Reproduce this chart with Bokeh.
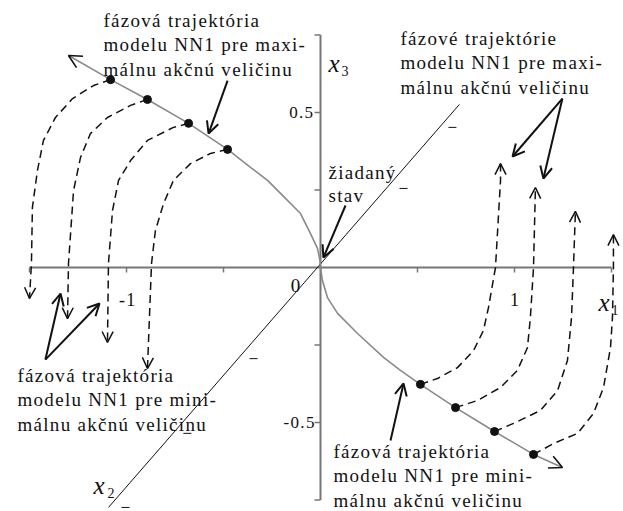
from bokeh.plotting import figure
from bokeh.models import Range1d, Arrow, OpenHead, InlineStyleSheet
from bokeh.core.properties import value
from bokeh.embed import file_html
from bokeh.resources import INLINE

W, H = 623, 511
X_LO, X_HI = -1.6495, 1.5619
Y_LO, Y_HI = -0.7871, 0.8613
PX = (X_HI - X_LO) / W   # data units of x1 per screen pixel
PY = (Y_HI - Y_LO) / H   # data units of x3 per screen pixel

# ---- switching curve: NN1 phase trajectory, maximal control (x1 < 0 branch)
curve_max_x1 = [-1.299, -1.082, -0.892, -0.680, -0.479, -0.361, -0.273, -0.206,
                -0.103, -0.052, -0.015, -0.002, 0.0]
curve_max_x3 = [0.684, 0.606, 0.542, 0.465, 0.381, 0.323, 0.281, 0.239,
                0.174, 0.110, 0.061, 0.020, 0.0]
# ---- switching curve: NN1 phase trajectory, minimal control (x1 > 0 branch)
curve_min_x1 = [0.0, 0.010, 0.036, 0.088, 0.191, 0.325, 0.412, 0.515, 0.696,
                0.897, 1.098, 1.247]
curve_min_x3 = [0.0, -0.042, -0.097, -0.148, -0.213, -0.290, -0.332, -0.377,
                -0.452, -0.529, -0.603, -0.645]

# ---- trajectories under minimal control, starting on the upper branch
traj_min = [
    ([-1.082, -1.170, -1.278, -1.366, -1.428, -1.459, -1.485, -1.490, -1.500],
     [0.606, 0.587, 0.545, 0.484, 0.410, 0.313, 0.194, 0.013, -0.100]),
    ([-0.892, -0.979, -1.098, -1.186, -1.237, -1.273, -1.299, -1.304],
     [0.542, 0.523, 0.484, 0.432, 0.355, 0.248, 0.013, -0.165]),
    ([-0.680, -0.758, -0.892, -0.979, -1.041, -1.072, -1.093, -1.098],
     [0.465, 0.452, 0.410, 0.345, 0.281, 0.184, 0.013, -0.242]),
    ([-0.479, -0.567, -0.670, -0.758, -0.809, -0.851, -0.871, -0.892],
     [0.381, 0.368, 0.335, 0.281, 0.206, 0.119, 0.013, -0.326]),
]
# ---- trajectories under maximal control, starting on the lower branch
traj_max = [
    ([0.515, 0.603, 0.706, 0.789, 0.840, 0.866, 0.902, 0.928, 0.928],
     [-0.377, -0.358, -0.323, -0.268, -0.203, -0.129, 0.0, 0.281, 0.335]),
    ([0.696, 0.809, 0.928, 1.015, 1.067, 1.082, 1.098, 1.108],
     [-0.452, -0.429, -0.387, -0.332, -0.258, -0.161, 0.0, 0.258]),
    ([0.897, 0.995, 1.134, 1.222, 1.273, 1.294, 1.304, 1.314],
     [-0.529, -0.503, -0.461, -0.397, -0.300, -0.161, 0.0, 0.181]),
    ([1.098, 1.201, 1.325, 1.407, 1.459, 1.495, 1.505, 1.510, 1.510],
     [-0.603, -0.568, -0.535, -0.471, -0.387, -0.258, -0.161, 0.0, 0.106]),
]

# ---- axes and tick values
x1_ticks = [-1.5, -1.0, -0.5, 0.5, 1.0, 1.5]
x3_ticks = [-0.75, -0.5, -0.25, 0.25, 0.5, 0.75]
x1_labels = {-1.0: "-1", 1.0: "1"}
x3_labels = {0.5: "0.5", -0.5: "-0.5"}
# x2 axis (drawn in oblique projection) and its tick marks
x2_axis_x1 = [-1.093, 0.716]
x2_axis_x3 = [-0.774, 0.526]
x2_ticks_x1 = [0.680, 0.428, -0.345, -0.686, -1.005]
x2_ticks_x3 = [0.452, 0.255, -0.294, -0.535, -0.774]

SERIF = value("Liberation Serif")
INK = "#111111"
AXIS = "#777777"

p = figure(width=W, height=H, x_range=Range1d(X_LO, X_HI), y_range=Range1d(Y_LO, Y_HI),
           output_backend="svg", toolbar_location=None, min_border=0)
p.axis.visible = False
p.grid.visible = False
p.outline_line_color = None
p.background_fill_color = "white"
p.border_fill_color = "white"
# the annotation texts are set with a little extra tracking
p.stylesheets = [InlineStyleSheet(css=":host, :host *, text { letter-spacing: 1.3px; }")]

# x1 and x3 axes crossing at the origin
p.segment(x0=[-1.5, 0.0], y0=[0.0, -0.75], x1=[1.5, 0.0], y1=[0.0, 0.75],
          line_color=AXIS, line_width=2)
p.segment(x0=x1_ticks, y0=[0.0] * len(x1_ticks), x1=x1_ticks,
          y1=[-5 * PY] * len(x1_ticks), line_color=AXIS, line_width=1.5)
p.segment(x0=[0.0] * len(x3_ticks), y0=x3_ticks, x1=[-6 * PX] * len(x3_ticks),
          y1=x3_ticks, line_color=AXIS, line_width=1.5)

# x2 axis
p.line(x2_axis_x1, x2_axis_x3, line_color=INK, line_width=1)
p.segment(x0=[v - 4 * PX for v in x2_ticks_x1], y0=x2_ticks_x3,
          x1=[v + 4 * PX for v in x2_ticks_x1], y1=x2_ticks_x3,
          line_color=INK, line_width=1)

# switching curve
p.line(curve_max_x1, curve_max_x3, line_color="#8a8a8a", line_width=1.6)
p.line(curve_min_x1, curve_min_x3, line_color="#8a8a8a", line_width=1.6)
for xs, ys in ((curve_max_x1[::-1], curve_max_x3[::-1]), (curve_min_x1, curve_min_x3)):
    p.add_layout(Arrow(end=OpenHead(size=13, line_width=1.6, line_color=INK),
                       x_start=xs[-2], y_start=ys[-2], x_end=xs[-1], y_end=ys[-1],
                       line_alpha=0))

# dashed trajectories with open arrow heads
for xs, ys in traj_min + traj_max:
    p.line(xs, ys, line_color=INK, line_width=1.5, line_dash="8 5")
    p.add_layout(Arrow(end=OpenHead(size=11, line_width=1.5, line_color=INK),
                       x_start=xs[-2], y_start=ys[-2], x_end=xs[-1], y_end=ys[-1],
                       line_alpha=0))
# initial states
p.scatter([t[0][0] for t in traj_min + traj_max], [t[1][0] for t in traj_min + traj_max],
          size=8, color=INK)

# tick labels
p.text(x=[k for k in x1_labels], y=[-32 * PY] * len(x1_labels),
       text=[x1_labels[k] for k in x1_labels], text_font=SERIF, text_font_size="18px",
       text_align="center", text_baseline="middle", text_color=INK)
p.text(x=[-10 * PX] * len(x3_labels), y=[k for k in x3_labels],
       text=[x3_labels[k] for k in x3_labels], text_font=SERIF, text_font_size="17px",
       text_align="right", text_baseline="middle", text_color=INK)
p.text(x=[-25 * PX], y=[-18 * PY], text=["0"], text_font=SERIF, text_font_size="19px",
       text_align="center", text_baseline="middle", text_color=INK)

# axis names
p.text(x=[278 * PX, 8 * PX, -227 * PX], y=[-35 * PY, 204 * PY, -218 * PY],
       text=["x", "x", "x"], text_font=SERIF, text_font_size="25px",
       text_font_style="italic", text_align="left", text_baseline="middle", text_color=INK)
p.text(x=[291 * PX, 21 * PX, -213 * PX], y=[-42 * PY, 197 * PY, -225 * PY],
       text=["1", "3", "2"], text_font=SERIF, text_font_size="14px",
       text_align="left", text_baseline="middle", text_color=INK)

# annotations
blocks = [
    (-1.119, 0.797, ["fázová trajektória", "modelu NN1 pre maxi-", "málnu akčnú veličinu"]),
    (0.412, 0.739, ["fázové trajektórie", "modelu NN1 pre maxi-", "málnu akčnú veličinu"]),
    (-1.562, -0.348, ["fázová trajektória", "modelu NN1 pre mini-", "málnu akčnú veličinu"]),
    (0.067, -0.593, ["fázová trajektória", "modelu NN1 pre mini-", "málnu akčnú veličinu"]),
    (0.041, 0.306, ["žiadaný", "stav"]),
]
for bx, by, lines in blocks:
    step = 24.5 * PY if len(lines) == 3 else 23 * PY
    p.text(x=[bx] * len(lines), y=[by - i * step for i in range(len(lines))], text=lines,
           text_font=SERIF, text_font_size="19px", text_align="left",
           text_baseline="middle", text_color=INK)

pointers = [
    (-0.479, 0.603, -0.577, 0.432),
    (1.247, 0.545, 0.990, 0.358),
    (1.247, 0.545, 1.149, 0.287),
    (-1.418, -0.297, -1.340, -0.084),
    (-1.418, -0.297, -1.139, -0.116),
    (0.361, -0.558, 0.428, -0.374),
    (0.129, 0.200, 0.015, 0.032),
]
for xs, ys, xe, ye in pointers:
    p.add_layout(Arrow(end=OpenHead(size=12, line_width=2, line_color=INK),
                       x_start=xs, y_start=ys, x_end=xe, y_end=ye,
                       line_color=INK, line_width=2))

open("out.html", "w").write(file_html(p, INLINE))
